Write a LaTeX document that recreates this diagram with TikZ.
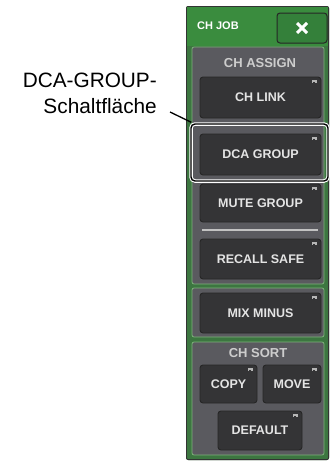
\documentclass[tikz,border=0pt]{standalone}
\usepackage{fontspec}
\setmainfont{Liberation Sans}
\definecolor{bordergreen}{RGB}{60,118,64}
\definecolor{headgreen}{RGB}{58,140,62}
\definecolor{edgegreen}{RGB}{125,180,122}
\definecolor{secgray}{RGB}{90,90,95}
\definecolor{btnfill}{RGB}{52,52,54}
\definecolor{btntext}{RGB}{228,228,228}
\definecolor{xbtn}{RGB}{52,128,58}
\tikzset{
  btn/.style={draw=black!85, line width=0.9pt, fill=btnfill, rounded corners=3pt,
    text=btntext, font=\bfseries\fontsize{12.5}{14}\selectfont, inner sep=0pt},
  seclabel/.style={text=btntext!90!black, font=\bfseries\fontsize{13}{14}\selectfont, inner sep=0pt},
  section/.style={fill=secgray, draw=edgegreen, line width=0.8pt, rounded corners=2pt},
  popicon/.style={fill=btntext!80!black, draw=none},
  callout/.style={font=\fontsize{20.8}{24}\selectfont, inner sep=0pt, anchor=base east},
  leader/.style={draw=black, line width=1.3pt}
}
\begin{document}
\begin{tikzpicture}[x=1pt,y=-1pt]
\useasboundingbox (0,0) rectangle (331,461);
% panel
\fill[bordergreen, rounded corners=2pt] (186,6) rectangle (329,460);
\draw[black!80, line width=0.8pt, rounded corners=2pt] (186.4,6.4) rectangle (328.6,459.6);
\fill[headgreen] (187,7) rectangle (328,46);
% sections
\draw[section] (192,47) rectangle (324,284);
\draw[section] (192,288) rectangle (324,337);
\draw[section] (192,342) rectangle (324,455);
% header
\node[text=white, font=\bfseries\fontsize{11}{12}\selectfont, anchor=west, inner sep=0pt] (chjob) at (197,26) {CH JOB};
\node[draw=black!85, line width=1pt, fill=xbtn, rounded corners=3pt, minimum width=50pt, minimum height=30pt, inner sep=0pt] (close) at (302,28) {};
\draw[white, line width=3pt] ([xshift=-5pt,yshift=-5pt]close.center) -- ([xshift=5pt,yshift=5pt]close.center);
\draw[white, line width=3pt] ([xshift=-5pt,yshift=5pt]close.center) -- ([xshift=5pt,yshift=-5pt]close.center);
% labels
\node[seclabel] (assign) at (260,63) {CH ASSIGN};
\node[seclabel] (sort) at (258,353) {CH SORT};
% buttons
\node[btn, minimum width=121pt, minimum height=41pt] (chlink) at (260.5,97.5) {CH LINK};
\node[btn, minimum width=121pt, minimum height=41pt] (dca) at (260.5,154.5) {DCA GROUP};
\node[btn, minimum width=121pt, minimum height=38pt] (mute) at (260.5,203) {MUTE GROUP};
\draw[btntext!85!black, line width=2pt] (202,230) -- (318,230);
\node[btn, minimum width=121pt, minimum height=40pt] (recall) at (260.5,259) {RECALL SAFE};
\node[btn, minimum width=121pt, minimum height=40pt] (mix) at (260.5,313) {MIX MINUS};
\node[btn, minimum width=57pt, minimum height=38pt] (copy) at (228.5,384) {COPY};
\node[btn, minimum width=58pt, minimum height=38pt] (move) at (292,384) {MOVE};
\node[btn, minimum width=84pt, minimum height=39pt] (default) at (260,430.5) {DEFAULT};
% pop-up icons
\foreach \b in {chlink,dca,mute,recall,mix,copy,move,default}{
  \fill[popicon] ([xshift=-9pt,yshift=-3.5pt]\b.north east) rectangle ([xshift=-4pt,yshift=-6.5pt]\b.north east);
  \fill[btnfill] ([xshift=-8pt,yshift=-5.5pt]\b.north east) rectangle ([xshift=-6pt,yshift=-6.5pt]\b.north east);
}
% highlight
\node[draw=white, line width=3.5pt, rounded corners=4pt, minimum width=137pt, minimum height=57pt, inner sep=0pt] (hlw) at (259.5,152.5) {};
\node[draw=black, line width=1.4pt, rounded corners=4pt, minimum width=137pt, minimum height=57pt, inner sep=0pt] (hl) at (259.5,152.5) {};
% callout
\node[callout] (lbl1) at (157,87) {DCA-GROUP-};
\node[callout] (lbl2) at (157,113) {Schaltfläche};
\coordinate (lstart) at (170,112);
\draw[leader] (lstart) -- ([xshift=1pt,yshift=1pt]hl.north west);
\end{tikzpicture}
\end{document}
